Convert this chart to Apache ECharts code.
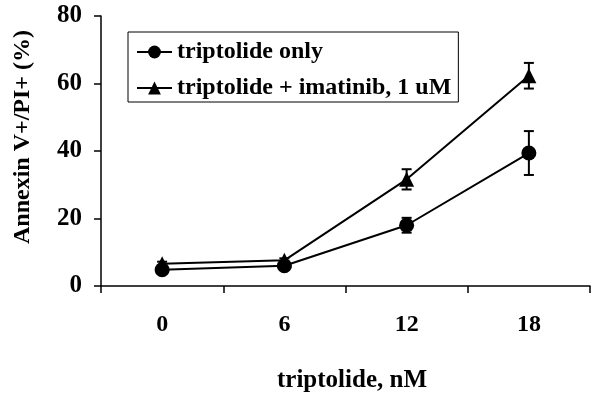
<!DOCTYPE html>
<html>
<head>
<meta charset="utf-8">
<script src="https://cdn.jsdelivr.net/npm/echarts@6/dist/echarts.min.js"></script>
<style>html,body{margin:0;padding:0;background:#fff}#c{width:600px;height:402px}</style>
</head>
<body>
<div id="c"></div>
<script>
const categories = ['0', '6', '12', '18'];
const onlyMeans = [4.8, 6.0, 18.0, 39.4];
const onlyErr = [0.6, 0.6, 2.2, 6.5];
const comboMeans = [6.6, 7.6, 31.6, 62.3];
const comboErr = [0.6, 0.6, 3.0, 3.8];
const yTicks = [0, 20, 40, 60, 80];

const FONT = '"Liberation Serif", "Times New Roman", serif';

function errSeries(name, means, errs) {
  return {
    type: 'custom',
    name: name + ' err',
    z: 1,
    silent: true,
    data: means.map((m, i) => [i, m - errs[i], m + errs[i]]),
    renderItem: function (params, api) {
      const x = api.value(0);
      const lo = api.coord([x, api.value(1)]);
      const hi = api.coord([x, api.value(2)]);
      const w = 5;
      const st = { stroke: '#000', lineWidth: 2 };
      return {
        type: 'group',
        children: [
          { type: 'line', shape: { x1: lo[0], y1: lo[1], x2: hi[0], y2: hi[1] }, style: st },
          { type: 'line', shape: { x1: lo[0] - w, y1: lo[1], x2: lo[0] + w, y2: lo[1] }, style: st },
          { type: 'line', shape: { x1: hi[0] - w, y1: hi[1], x2: hi[0] + w, y2: hi[1] }, style: st }
        ]
      };
    }
  };
}

const chart = echarts.init(document.getElementById('c'), null, { renderer: 'canvas' });
chart.setOption({
  animation: false,
  backgroundColor: '#fff',
  grid: { left: 101, right: 10, top: 16, bottom: 116, containLabel: false },
  legend: {
    orient: 'vertical',
    left: 128,
    top: 32,
    padding: [8, 7, 2, 8],
    itemGap: 12,
    itemWidth: 35,
    itemHeight: 16,
    borderColor: '#000',
    borderWidth: 1,
    backgroundColor: '#fff',
    data: ['triptolide only', 'triptolide + imatinib, 1 uM'],
    textStyle: { fontFamily: FONT, fontWeight: 'bold', fontSize: 24, lineHeight: 24, color: '#000' }
  },
  xAxis: {
    type: 'category',
    data: categories,
    boundaryGap: true,
    axisLine: { lineStyle: { color: '#000', width: 1.5 } },
    axisTick: { show: true, alignWithLabel: false, length: 7, lineStyle: { color: '#000', width: 1.5 } },
    axisLabel: { fontFamily: FONT, fontWeight: 'bold', fontSize: 24, color: '#000', margin: 27 },
    name: 'triptolide, nM',
    nameLocation: 'middle',
    nameGap: 82,
    nameTextStyle: { fontFamily: FONT, fontWeight: 'bold', fontSize: 25, color: '#000', padding: [0, 0, 0, 13] }
  },
  yAxis: {
    type: 'value',
    min: yTicks[0],
    max: yTicks[yTicks.length - 1],
    interval: 20,
    splitLine: { show: false },
    axisLine: { show: true, lineStyle: { color: '#000', width: 1.5 } },
    axisTick: { show: true, length: 7, lineStyle: { color: '#000', width: 1.5 } },
    axisLabel: { fontFamily: FONT, fontWeight: 'bold', fontSize: 25, color: '#000', margin: 19 }
  },
  graphic: [{
    type: 'text',
    left: 11,
    top: 30,
    rotation: Math.PI / 2,
    style: {
      text: 'Annexin V+/PI+ (%)',
      font: 'bold 24px ' + FONT,
      fill: '#000'
    }
  }],
  series: [
    errSeries('triptolide only', onlyMeans, onlyErr),
    errSeries('triptolide + imatinib, 1 uM', comboMeans, comboErr),
    {
      name: 'triptolide only',
      type: 'line',
      data: onlyMeans,
      z: 3,
      symbol: 'circle',
      symbolSize: 15,
      itemStyle: { color: '#000' },
      lineStyle: { color: '#000', width: 2 }
    },
    {
      name: 'triptolide + imatinib, 1 uM',
      type: 'line',
      data: comboMeans,
      z: 3,
      symbol: 'triangle',
      symbolSize: 15,
      itemStyle: { color: '#000' },
      lineStyle: { color: '#000', width: 2 }
    }
  ]
});
</script>
</body>
</html>
